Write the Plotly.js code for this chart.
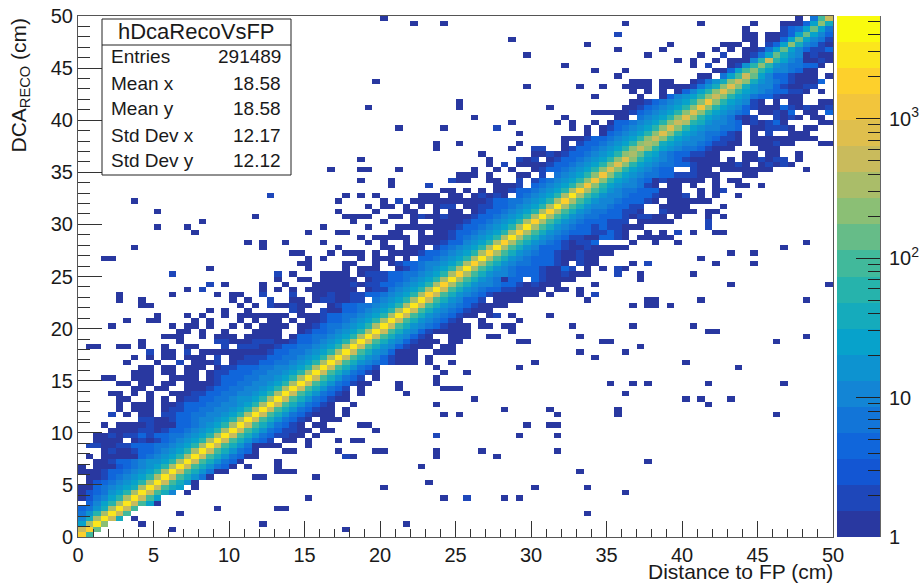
<!DOCTYPE html>
<html><head><meta charset="utf-8">
<script src="https://cdn.plot.ly/plotly-3.0.1.min.js"></script>
<style>html,body{margin:0;padding:0;background:#fff}#c{width:922px;height:585px}</style>
</head><body><div id="c"></div>
<script>
// Colour level per cell (0-9,a-j); "left|right": the right part starts on the diagonal bin of that row.
const rowStrings = [
"|ha","e|hb","7d|ic","58d|ie8.0","469d|iea","3468d|iea",".3579d|iea70","024579d|iea7","0234679d|iea85.0","00345678d|iea87.0",
".02345679d|iea860",".001345679d|iea8640","00013345679d|iea86400","0.00023456 79d|iea86430.0","..00133456679d|iea86430",".0.00000345679d|iea864300","...010013345679d|iea86430...0",".110011333445679d|iea8640000...0","..0000.0101345679d|iea86431.00.0","..0010113133445679d|iea86431100.0",
"....000011013345679d|iea86431100.00","...0.000010003345679d|iea864310.00","........1100133455679d|iea864310.000","....1.0.00.11334455679d|iea86431000.0",".....0.000.011334455679d|iea8643100.0",".....0.000.0013334455679d|iea864310..0",".....00..0.0.011334456679d|iea8643100","....00.0.0..00011334455679d|iea864310.0",".......00.00..0001334455679d|iea86431.0",".....00.00.00.00001334455679d|iea8643100",
"...00..000..0000.013334455679d|iea86431.0",".......000.00.00.0113334455679d|iea864310","........00.00.000.0113334455679d|iea86431","......0...0..1.0001.011133445679d|iea865431000.0",".000.1.0011133445679d|iea86531000.0",".00.00000133445679d|iea8653000..000","1.11000133445679d|iea86531000.00","1.001110013345679d|iea86531000.00","0.0.0.0.033445679d|iea865310..000","0.0..013345679d|iea8653100000",
"0.00.001344 5679d|iea865431000.0","0.0.0013345679d|iea8654310..0","000..000133445679d|iea86543100.01","100334 5679d|iea865431000","0.100..0133445679d|iea8654310000","0.0110011.45679d|iea865331.0000","00100113345679d|hea865431000000.0","00000.01145679d|iea865433110000.00","00010113345679d|hda8655433101000","0000.0113345679d|ida8654033.310000",
"00.01113344 5679d|hda86554333100100","0.000..013 45679d|ida8654333100 31.0","00..0.0133455679d|hda86544333 10.100","0.000.0.3345679d|ida8654333100100","000.0.000013345679d|hda86543310010000","00.000.1345679d|ida865333100100000","0..0.00013356 79d|hda8654310113....0..0..0","0..00.00001345679d|ida865431100331 0.00000","0...0.0013345679d|hda865433311310..0.0.1.0..00","00.00000133 45679d|ida8654331311000........1",
"0..000013345679d|hda8654333111.00000....1","0.0.0.1.0013345679d|ida8654433310110 0.0...0.0","00..0.00.013345679d|hda8654433110..10000.00","0.0.0.0.1.00113345679d|ida865543311..0000....0","0.0.000000133445679d|hda8655433310.000000","0.0.....000.00.01010.345679d|ida8655433310001.0.0..0","00.0.0.00133 45679d|hda86544333000..0.01","0001.345679c|gc9765541 0.00.0..0..00.0","00..1.1345679c|gc97654301000 00.0.00","000.0...00.1.45679c|gc97654433 111000...00",
"0..0.0..013345679c|fc976543 3..100.0000000....0...0","0.1.000013345679c|fc976544 33 100000 10.0101 0","0...001.013345679c|fc9 76543 1000 0.0.00 1011.0.....00","0......001013345679c|db87543 3 1100...00.00..0","0..11..013345679c|ec97654 4 31 000.. .000","0.....0.13345679c|dc87655431100.00010 0...00.0","00013345679c|ec976554311 0.0000000 00","0.0345679c|fc976544310.0.1.. 000","0.01345679c|fc976554 43.001110.00","0.03345679c|ed9865 54 30101 30....0000",
"00.45679c|fc97654101..1010.00","000001345679c|fc97654 3.0010 3.00.3","001345679c|gc976531000 31 0100 1","001345679c|gc9765 1 0.0.00..00","0..035679c|ec97643 31000....0","0.0.0.03579c|fc97654 3311 0.0","0000.00001468c|fc8655310011","000.00..01468c|ec86543 1000 3","00.47a|eb7533100 0.0","0037a|c975 5430 0",
"0.1..0169|c96 544330","0.0..0.00059|e97540010","0..1..0147|b8650100","0.0.00147|b753113","000.0.137|c85410","00.0037|b7541","0..00137|b753","0....1347|b74","00037|c8","0.4a|e"
].map(s => s.replace(/ /g, ""));

const sparseCells = [
[12,1],[8,2],[24,2],[13,4],[18,5],[26,5],[27,5],[30,7],[14,8],[23,11],[24,11],[31,11],[27,12],[28,12],[26,12],[26,13],[22,13],[26,14],[22,15],[28,16],[30,17],[30,18],
[35,1],[43,2],[48,7],[56,7],[58,7],[40,9],[46,10],[60,9],[66,12],[45,13],[47,16],[47,15],[36,15],[34,16],[39,16],[40,16],[53,16],[55,15],[63,16],[34,18],[36,18],[37,18],[58,19],[63,19],[33,20],[39,20],[37,21],[38,21],[59,21],[62,21],[63,21],[48,23],[50,23],[63,23],[56,24],[62,24],[47,25],[52,26],[43,27],[42,28],[42,29],[47,29],[47,30],[48,28],[49,28],[50,28],[48,31],[51,31],[47,32],[49,33],[58,32],[60,33],
[70,29],[73,29],[75,29],[83,29],[93,29],[72,27],[80,26],[82,26],[86,26],[83,25],[71,24],[71,23],[92,23],[75,14],[67,9],[72,8],[67,4],[80,33],[87,32],
[96,56],[93,55],[86,54],[89,54],[82,53],[84,52],[89,52],[73,52],[81,50],[74,50],[74,49],[67,50],[69,51],[72,51],[86,48],[99,48],[68,48],[67,45],[66,47],[66,46],[75,45],[76,45],[75,44],[76,44],[73,44],[78,44],[82,45],[96,45],[73,40],[81,40],[83,39],[84,39],[66,38],[69,37],[70,37],[92,37],[96,38],[74,36],[66,35],[72,35],[68,34],[80,33],[58,37],[59,37],[54,38],[55,38],[66,38],[57,39],[54,40],[56,40],[57,40],[65,40],[58,41],[62,42],[62,46],[57,42],
[40,99],[44,98],[48,98],[57,95],[59,92],[64,90],[39,87],[59,86],[66,86],[38,82],[50,83],[50,82],[62,82],[52,80],[64,80],[63,79],[65,79],[65,78],[57,79],[42,78],[48,78],[58,77],[47,75],[47,74],[50,75],[58,75],[57,74],[53,73],[37,72],[54,72],[54,71],[33,70],[37,70],[38,70],[42,70],[37,68],[41,68],[41,67],[50,69],[51,69],[52,69],[50,68],[51,68],[52,70],
[72,98],[82,98],[89,98],[88,97],[67,94],[78,94],[71,93],[77,93],[75,92],[82,92],[79,91],[81,91],[81,90],[68,89],[72,89],[71,88],[68,84],[69,86],[89,96],
[7,64],[10,62],[23,61],[16,60],[10,59],[14,59],[15,58],[30,58],[32,59],[22,56],[24,56],[24,55],[27,56],[32,56],[7,55],[28,54],[29,54],[33,54],[3,53],[4,53],[30,53],[30,52],[30,51],[32,53],[29,52],[17,51],[26,49],[28,50],[29,49],[30,49],[32,50],[33,50],[32,49],[33,49],[19,48],[24,48],[24,47],[27,48],[14,47],[26,47],[28,47],[30,47],[31,48],[32,48],[31,47],[32,47],[5,46],[5,45],[12,46],[18,46],[20,46],[20,45],[21,46],[8,45],[8,44],[9,44],[22,45],[28,45],[21,44],[23,44],[27,44],[29,44],[30,44],[17,43],[19,43],[19,42],[22,43],[29,43],[14,42],[16,42],[10,42],[10,41],[9,41],[6,41],[21,42],[22,42],[23,42],[21,41],[23,41],[15,41],[17,41],[17,40],[4,40],[12,40],[15,40],[14,40],[20,40],[22,40],[24,40],[25,41],[25,40],[25,39],[26,42],[27,42],
[6,33],[10,33],[7,34],[9,34],[11,34],[12,34],[15,34],[16,34],[11,35],[12,35],[16,35],[17,35],[19,35],[1,36],[2,36],[5,36],[6,36],[8,36],[11,36],[14,36],[15,36],[19,36],[8,37],[13,37],[20,37],[21,37],[25,37],[26,37],[27,37],[11,38],[12,38],[13,38],[16,38],[18,38],[19,38],[20,38],[23,38],[25,38],[13,39],[14,39],[16,39],[19,39],[23,39],
[35,65],[37,65],[39,65],[45,65],[46,65],[47,65],[34,64],[40,64],[45,64],[47,64],[38,63],[40,63],[43,63],[45,63],[47,63],[34,62],[39,62],[35,61],[36,61],[37,61],[38,61],[41,61],[47,61],[49,61],[51,61],[36,60],[40,60],[44,60],[38,59],[44,59],[45,59],[34,58],[35,58],[42,58],[45,58],[37,57],[40,57],[41,57],[38,56],[40,56],[34,55],[33,54],[35,54],[36,54],[37,54]
];
const lightCells = [[25,65],[12,50],[26,50],[17,48],[16,47],[24,46],[25,45],[25,44],[28,43],[28,46],[35,15],[47,19],[51,7],[75,52],[71,51],[71,50],[68,46],[55,78],[46,67],[71,96],[42,64],[48,63],[45,61],[85,92],[49,68],[14,35],[18,37],[22,36],[23,36],[9,35],[58,72],[60,72],[56,71]];

const levelChars = "0123456789abcdefghij";
const birdStops = [[41,56,160],[15,92,221],[20,129,214],[6,164,202],[46,183,164],[135,191,119],[209,187,89],[254,200,50],[249,251,14]];
const colorbarLevels = levelChars.split("").map((c, i) => i);
const decadeTicks = [0, 1, 2, 3];
const decadeLabels = ["1", "10", "10<sup>2</sup>", "10<sup>3</sup>"];
const minorCounts = [2,3,4,5,6,7,8,9,20,30,40,50,60,70,80,90,200,300,400,500,600,700,800,900,2000,3000,4000,5000];
const statsLabels = ["Entries", "Mean x", "Mean y", "Std Dev x", "Std Dev y"];
const statsValues = ["291489", "18.58", "18.58", "12.17", "12.12"];
const statsY = [57, 84, 109, 136, 160];

const N = 100, W = 922, H = 585, PL = 78, PR = 833, PT = 16, PB = 537, CL = 837, CR = 880;
const z = Array.from({length: N}, () => Array(N).fill(null));
rowStrings.forEach((s, r) => {
  const [left, right] = s.split("|");
  [...left].forEach((ch, i) => { const c = r - left.length + i; if (c >= 0 && c < N && ch !== ".") z[r][c] = levelChars.indexOf(ch) + 0.5; });
  [...right].forEach((ch, i) => { const c = r + i; if (c < N && ch !== ".") z[r][c] = levelChars.indexOf(ch) + 0.5; });
});
sparseCells.forEach(([c, r]) => { if (z[r][c] === null) z[r][c] = 0.5; });
lightCells.forEach(([c, r]) => { z[r][c] = 1.5; });

function birdColor(t) {
  const p = t * (birdStops.length - 1), i = Math.min(Math.floor(p), birdStops.length - 2), f = p - i;
  const v = birdStops[i].map((a, k) => Math.round(a + (birdStops[i + 1][k] - a) * f));
  return `rgb(${v[0]},${v[1]},${v[2]})`;
}
const scale = [];
colorbarLevels.forEach(i => { const col = birdColor(i / 19); scale.push([i / 20, col], [(i + 1) / 20, col]); });

const decades = 3.735;
const font = {family: '"Liberation Sans", Arial, sans-serif', color: "#1a1a1a"};
const totalW = CR - PL;
const px = x => (x - PL) / totalW, py = y => (PB - y) / (PB - PT);
const shapes = [
  {type: "rect", xref: "paper", yref: "paper", x0: px(102), x1: px(291), y0: py(175), y1: py(19), fillcolor: "#fff", line: {color: "#222", width: 1}},
  {type: "line", xref: "paper", yref: "paper", x0: px(102), x1: px(291), y0: py(45), y1: py(45), line: {color: "#222", width: 1}}
];
const annotations = [
  {xref: "paper", yref: "paper", x: px(196), y: py(32), text: "hDcaRecoVsFP", showarrow: false, xanchor: "center", yanchor: "middle", font: {...font, size: 22}},
  {xref: "paper", yref: "paper", x: px(834), y: py(584), text: "Distance to FP (cm)", showarrow: false, xanchor: "right", yanchor: "bottom", borderpad: 0, font: {...font, size: 21}},
  {xref: "paper", yref: "paper", x: px(20), y: py(15), text: "DCA<sub>RECO</sub> (cm)", showarrow: false, textangle: -90, xanchor: "center", yanchor: "top", font: {...font, size: 21}}
];
statsLabels.forEach((t, i) => {
  annotations.push({xref: "paper", yref: "paper", x: px(109), y: py(statsY[i]), text: t, showarrow: false, xanchor: "left", yanchor: "middle", font: {...font, size: 19}});
  annotations.push({xref: "paper", yref: "paper", x: px(283), y: py(statsY[i]), text: statsValues[i], showarrow: false, xanchor: "right", yanchor: "middle", font: {...font, size: 19}});
});

const data = [
  {type: "heatmap", z, x0: 0.25, dx: 0.5, y0: 0.25, dy: 0.5, zmin: 0, zmax: 20, colorscale: scale, showscale: false, hoverongaps: false, xaxis: "x", yaxis: "y"},
  {type: "heatmap", z: colorbarLevels.map(l => [l + 0.5]), x: [0], y0: decades / 40, dy: decades / 20, zmin: 0, zmax: 20, colorscale: scale, showscale: false, xaxis: "x2", yaxis: "y2"}
];
const layout = {
  width: W, height: H, paper_bgcolor: "#fff", plot_bgcolor: "#fff", showlegend: false,
  margin: {l: PL, r: W - CR, t: PT, b: H - PB, pad: 0},
  xaxis: {domain: [0, (PR - PL) / totalW], range: [0, 50], tickvals: [0,5,10,15,20,25,30,35,40,45,50], ticks: "inside", ticklen: 16, tickcolor: "#333", tickwidth: 1, tickfont: {...font, size: 20}, showgrid: false, zeroline: false, showline: true, mirror: true, linecolor: "#555", linewidth: 1,
    minor: {dtick: 1, ticks: "inside", ticklen: 8, tickcolor: "#333", tickwidth: 1, showgrid: false}},
  yaxis: {domain: [0, 1], range: [0, 50], tickvals: [0,5,10,15,20,25,30,35,40,45,50], ticks: "inside", ticklen: 24, tickcolor: "#333", tickwidth: 1, tickfont: {...font, size: 20}, showgrid: false, zeroline: false, showline: true, mirror: true, linecolor: "#555", linewidth: 1,
    minor: {dtick: 1, ticks: "inside", ticklen: 12, tickcolor: "#333", tickwidth: 1, showgrid: false}},
  xaxis2: {domain: [(CL - PL) / totalW, 1], anchor: "y2", showticklabels: false, ticks: "", showgrid: false, zeroline: false, showline: false},
  yaxis2: {domain: [0, 1], anchor: "x2", side: "right", range: [0, decades], tickmode: "array", tickvals: decadeTicks, ticktext: decadeLabels, ticks: "inside", ticklen: 24, tickcolor: "#222", tickwidth: 1, ticklabelstandoff: 4, tickfont: {...font, size: 20}, showgrid: false, zeroline: false, showline: true, linecolor: "#666", linewidth: 1,
    minor: {tickmode: "array", tickvals: minorCounts.map(v => Math.log10(v)), ticks: "inside", ticklen: 12, tickcolor: "#222", tickwidth: 1, showgrid: false}},
  shapes, annotations
};
Plotly.newPlot("c", data, layout, {displayModeBar: false, staticPlot: true});
</script></body></html>
